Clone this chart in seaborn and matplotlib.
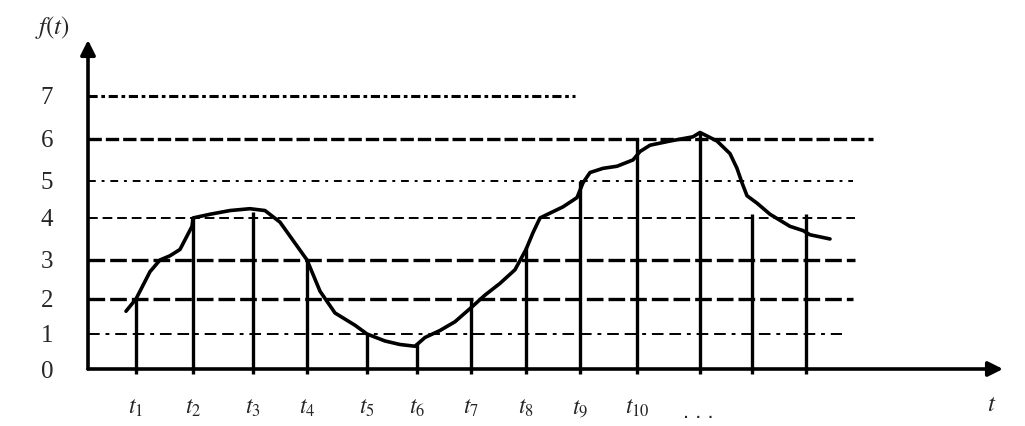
import matplotlib
matplotlib.use("Agg")
import matplotlib.pyplot as plt
import seaborn as sns
import pandas as pd
import numpy as np

# ---- data ----
curve_t = [3.8, 4.8, 6.2, 7.2, 8.2, 9.2, 10.4, 10.5, 12.2, 14.2, 16.2, 17.7, 19.2, 20.7,
           21.9, 23.2, 24.7, 26.7, 27.9, 29.7, 31.2, 32.7, 33.7, 35.2, 36.7, 38.3, 39.7,
           41.2, 42.7, 43.8, 44.5, 45.2, 47.5, 48.9, 49.5, 50.2, 51.5, 52.9, 54.5, 55.2,
           56.2, 58.2, 60.5, 61.2, 62.9, 64.2, 64.9, 65.4, 65.9, 66.9, 68.2, 70.2, 71.5,
           72.2, 74.2]
curve_f = [1.65, 2.0, 2.7, 3.0, 3.1, 3.25, 3.8, 4.0, 4.1, 4.2, 4.25, 4.2, 3.9, 3.4,
           3.0, 2.2, 1.6, 1.25, 1.0, 0.8, 0.7, 0.65, 0.9, 1.1, 1.35, 1.75, 2.1,
           2.4, 2.75, 3.25, 3.65, 4.0, 4.3, 4.55, 4.95, 5.2, 5.3, 5.35, 5.5, 5.7,
           5.85, 5.95, 6.05, 6.15, 5.95, 5.65, 5.3, 4.95, 4.6, 4.4, 4.1, 3.8, 3.7,
           3.6, 3.5]

stem_t = [4.8, 10.5, 16.5, 21.9, 27.9, 32.9, 38.3, 43.8, 49.2, 54.9, 61.2, 66.4, 71.8]
stem_f = [2.0, 4.0, 4.15, 3.0, 1.0, 0.75, 2.0, 3.3, 5.0, 6.0, 6.15, 4.1, 4.1]
tick_labels = [r"$t_{1}$", r"$t_{2}$", r"$t_{3}$", r"$t_{4}$", r"$t_{5}$", r"$t_{6}$",
               r"$t_{7}$", r"$t_{8}$", r"$t_{9}$", r"$t_{10}$"]

grid_levels = [1, 2, 3, 4, 5, 6, 7]
grid_ends = [75.4, 76.5, 76.7, 76.7, 76.5, 78.5, 48.7]
y_labels = ["0", "1", "2", "3", "4", "5", "6", "7"]

# hand-drawn (slightly uneven) spacing of the value axis
scale_vals = [-3, 0, 1, 2, 3, 4, 5, 6, 7, 10]
scale_pos = [-105, 0, 35, 70, 109, 151, 188, 230, 273, 402]


def fwd(v):
    return np.interp(v, scale_vals, scale_pos)


def inv(p):
    return np.interp(p, scale_pos, scale_vals)


# ---- figure ----
sns.set_style("white")
plt.rcParams["font.family"] = ["Liberation Sans", "DejaVu Sans"]
plt.rcParams["mathtext.fontset"] = "stix"

fig = plt.figure(figsize=(10.25, 4.26), dpi=100)
ax = fig.add_axes([88 / 1025, 57 / 426, 915 / 1025, 329 / 426])
ax.set_yscale("function", functions=(fwd, inv))
ax.set_xlim(0, 91.5)
ax.set_ylim(0, 8.30)

# grid lines with varied dash styles
styles = [
    dict(lw=1.4, ls=(0, (6, 3, 2, 3, 6, 3))),   # 1 thin dash-dot
    dict(lw=2.4, ls=(0, (5, 1.5))),             # 2 thick dashes
    dict(lw=2.4, ls=(0, (5, 1.5))),             # 3 thick dashes
    dict(lw=1.4, ls=(0, (5, 2.5))),             # 4 thin dashes
    dict(lw=1.4, ls=(0, (4, 3, 1.5, 3))),       # 5 thin dash-dot
    dict(lw=2.4, ls=(0, (4, 1.2))),             # 6 dense thick dashes
    dict(lw=2.2, ls=(0, (3, 1.2, 1.2, 1.2))),   # 7 dense dash-dot
]
for lev, end, st in zip(grid_levels, grid_ends, styles):
    ax.hlines(lev, 0, end, colors="black", linewidth=st["lw"], linestyles=[st["ls"]])

# stems
ax.vlines(stem_t, -0.15, stem_f, colors="black", linewidth=2.4, clip_on=False)

# curve
df = pd.DataFrame({"t": curve_t, "f": curve_f})
sns.lineplot(data=df, x="t", y="f", ax=ax, color="black", linewidth=2.6, sort=False)

# axes
for s in ["top", "right", "left", "bottom"]:
    ax.spines[s].set_visible(False)
ax.annotate("", xy=(91.5, 0), xytext=(0, 0),
            arrowprops=dict(arrowstyle="-|>", lw=2.6, color="black", mutation_scale=22,
                            shrinkA=0, shrinkB=0), annotation_clip=False)
ax.annotate("", xy=(0, 8.30), xytext=(0, 0),
            arrowprops=dict(arrowstyle="-|>", lw=2.6, color="black", mutation_scale=22,
                            shrinkA=0, shrinkB=0), annotation_clip=False)

ax.set_yticks(range(len(y_labels)))
ax.set_yticklabels(y_labels, fontsize=18, family="Liberation Serif")
ax.yaxis.set_minor_locator(matplotlib.ticker.NullLocator())
ax.set_xticks(stem_t[:len(tick_labels)])
ax.set_xticklabels(tick_labels, fontsize=17)
ax.tick_params(axis="y", length=0, pad=25)
ax.tick_params(axis="x", length=0, pad=20)
ax.set_xlabel("")
ax.set_ylabel("")

ax.text(61.0, -1.25, ". . .", fontsize=16, ha="center", va="center")
ax.text(90.4, -1.0, r"$t$", fontsize=18, ha="center", va="center")
ax.text(-3.5, 8.6, r"$f(t)$", fontsize=18, ha="center", va="center")

fig.savefig("out.png", dpi=100)
